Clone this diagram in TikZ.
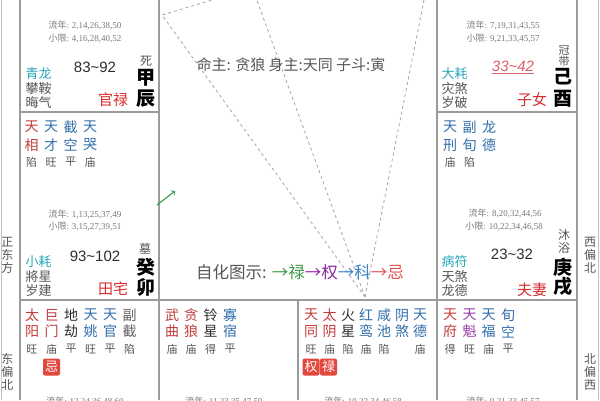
\documentclass[tikz,border=0pt]{standalone}
\usepackage{fontspec}
\setmainfont{Liberation Serif}
\setsansfont{Liberation Sans}
\newfontfamily\cjk{Noto Sans CJK SC}
\usetikzlibrary{positioning}

\definecolor{gridgray}{RGB}{155,155,155}
\definecolor{dashgray}{RGB}{165,165,165}
\definecolor{starred}{RGB}{196,60,60}
\definecolor{starblue}{RGB}{50,110,170}
\definecolor{stardark}{RGB}{45,45,45}
\definecolor{starmid}{RGB}{95,95,95}
\definecolor{starpurple}{RGB}{150,60,170}
\definecolor{godteal}{RGB}{40,165,185}
\definecolor{textgray}{RGB}{85,85,85}
\definecolor{yeargray}{RGB}{120,120,120}
\definecolor{palacered}{RGB}{215,45,45}
\definecolor{badgered}{RGB}{226,72,60}
\definecolor{lugreen}{RGB}{60,150,70}
\definecolor{quanpurple}{RGB}{140,40,160}
\definecolor{keblue}{RGB}{60,130,200}
\definecolor{jired}{RGB}{225,80,80}
\definecolor{limitred}{RGB}{215,95,105}

\begin{document}
\begin{tikzpicture}[x=1pt, y=-1pt,
    starname/.style={inner sep=0pt, font=\cjk\fontsize{14}{14}\selectfont},
    bright/.style={inner sep=0pt, text=textgray, font=\cjk\fontsize{11}{11}\selectfont},
    yearline/.style={inner sep=0pt, text=yeargray, font=\fontsize{9}{9}\selectfont},
    decade/.style={inner sep=0pt, text=stardark, font=\sffamily\fontsize{15}{15}\selectfont},
    stemnode/.style={inner sep=0pt, text=black, font=\cjk\bfseries\fontsize{19}{19}\selectfont},
    growth/.style={inner sep=0pt, text=textgray, font=\cjk\fontsize{12}{12}\selectfont},
    godnode/.style={inner sep=0pt, text=textgray, font=\cjk\fontsize{13}{13}\selectfont},
    palace/.style={inner sep=0pt, text=palacered, font=\cjk\fontsize{15}{15}\selectfont},
    badge/.style={fill=badgered, text=white, rounded corners=2pt, minimum size=17pt,
      inner sep=0pt, font=\cjk\fontsize{13}{13}\selectfont},
    compass/.style={inner sep=0pt, text=textgray, align=center,
      font=\cjk\fontsize{12}{13}\selectfont},
    centertext/.style={inner sep=0pt, text=textgray, font=\cjk\fontsize{15}{15}\selectfont},
    gridline/.style={draw=gridgray, line width=1.2pt},
    sanfang/.style={draw=dashgray, dashed, line width=0.8pt}, ]
    \useasboundingbox (0,0) rectangle (600,400);
    \clip (0,0) rectangle (600,400);
    % Lines
    \coordinate (ming) at (365,297); \coordinate (chen) at (162,15);
    \coordinate (chenup) at (229,-5); \coordinate (topmid) at (255,-5);
    \coordinate (topright) at (425,-5);
    \draw[sanfang] (ming) -- (chen) -- (chenup); \draw[sanfang] (ming)
    -- (topmid); \draw[sanfang] (ming) -- (topright);
    \draw[gridline] (20,0) -- (20,400); \draw[gridline] (159,0) --
    (159,400); \draw[gridline] (298,300) -- (298,400); \draw[gridline]
    (437,0) -- (437,400); \draw[gridline] (577,0) -- (577,400);
    \draw[gridline] (20,112) -- (159,112); \draw[gridline] (437,112) --
    (577,112); \draw[gridline] (20,300) -- (577,300);
    \draw[gridgray!60, line width=0.8pt] (1.5,0) -- (1.5,400);
    \draw[gridgray!60, line width=0.8pt] (598.5,0) -- (598.5,400);
    % Compass
    \node[compass] (east) at (7.5,255) {正\\东\\方}; \node[compass]
    (eastnorth) at (7.5,372) {东\\偏\\北}; \node[compass] (westnorth) at
    (590,255) {西\\偏\\北}; \node[compass] (northwest) at (590,372)
    {北\\偏\\西};
    % Centre
    \node[centertext] (mingzhu) at (291,65) {命主: 贪狼 身主:天同 子斗:寅};
    \node[centertext, font=\cjk\fontsize{16.5}{16.5}\selectfont] (zihua) at
    (300,272) {自化图示: {\color{lugreen}→禄}{\color{quanpurple}→权}%
      {\color{keblue}→科}{\color{jired}→忌}};
    \coordinate (huastart) at (157,205); \coordinate (huaend) at (175,191);
    \draw[->, lugreen, line width=1.1pt] (huastart) -- (huaend);
    % Chen
    \node[yearline] (chenliu) at (85,25) {{\cjk 流年}: 2,14,26,38,50};
    \node[yearline] (chenxiao) at (85,38) {{\cjk 小限}: 4,16,28,40,52};
    \node[decade] (chendec) at (95,67) {83\textasciitilde 92};
    \node[growth] (chengrow) at (146,61) {死}; \node[stemnode] (chenstem)
    at (146,78) {甲}; \node[stemnode] (chenbranch) at (146,99) {辰};
    \node[godnode, text=godteal] (chengod) at (38.5,74) {青龙};
    \node[godnode] (chenjiang) at (38.5,89) {攀鞍}; \node[godnode]
    (chensui) at (38.5,103) {晦气}; \node[palace] (chenpal) at (113,100)
    {官禄};
    % Mao
    \foreach \x/\a/\b/\d/\c [count=\i] in {31.5/天/相/陷/starred,
      51/天/才/旺/starblue, 70.5/截/空/平/starblue, 90/天/哭/庙/starblue} {
      \node[starname, text=\c] (mao\i a) at (\x,127) {\a};
      \node[starname, text=\c] (mao\i b) at (\x,145) {\b};
      \node[bright] (mao\i c) at (\x,162) {\d}; }
    \node[yearline] (maoliu) at (85,214) {{\cjk 流年}: 1,13,25,37,49};
    \node[yearline] (maoxiao) at (85,226) {{\cjk 小限}: 3,15,27,39,51};
    \node[decade] (maodec) at (95,256) {93\textasciitilde 102};
    \node[growth] (maogrow) at (145,249) {墓}; \node[stemnode] (maostem)
    at (146,267) {癸}; \node[stemnode] (maobranch) at (146,287) {卯};
    \node[godnode, text=godteal] (maogod) at (38.5,262) {小耗};
    \node[godnode] (maojiang) at (38.5,277) {將星}; \node[godnode]
    (maosui) at (38.5,291) {岁建}; \node[palace] (maopal) at (113,289)
    {田宅};
    % You
    \node[yearline] (youliu) at (503,25) {{\cjk 流年}: 7,19,31,43,55};
    \node[yearline] (youxiao) at (503,38) {{\cjk 小限}: 9,21,33,45,57};
    \node[decade, text=limitred, font=\sffamily\itshape\fontsize{15}{15}\selectfont]
    (youdec) at (513,67) {\underline{33\textasciitilde 42}};
    \node[growth, font=\cjk\fontsize{11}{11}\selectfont] (yougrowa) at
    (564,51) {冠}; \node[growth, font=\cjk\fontsize{11}{11}\selectfont]
    (yougrowb) at (564,61) {带}; \node[stemnode] (youstem) at (563,77)
    {己}; \node[stemnode] (youbranch) at (563,99) {酉};
    \node[godnode, text=godteal] (yougod) at (454.5,74) {大耗};
    \node[godnode] (youjiang) at (454.5,89) {灾煞}; \node[godnode]
    (yousui) at (454.5,103) {岁破}; \node[palace] (youpal) at (532,100)
    {子女};
    % Xu
    \foreach \x/\a/\b/\d/\c [count=\i] in {450/天/刑/庙/starblue,
      469.5/副/旬/陷/starblue, 489/龙/德//starblue} {
      \node[starname, text=\c] (xu\i a) at (\x,127) {\a};
      \node[starname, text=\c] (xu\i b) at (\x,145) {\b};
      \node[bright] (xu\i c) at (\x,162) {\d}; }
    \node[yearline] (xuliu) at (505,213) {{\cjk 流年}: 8,20,32,44,56};
    \node[yearline] (xuxiao) at (504,226) {{\cjk 小限}: 10,22,34,46,58};
    \node[decade] (xudec) at (512,254) {23\textasciitilde 32};
    \node[growth] (xugrowa) at (564,235) {沐}; \node[growth] (xugrowb) at
    (564,248) {浴}; \node[stemnode] (xustem) at (563,267) {庚};
    \node[stemnode] (xubranch) at (563,287) {戌};
    \node[godnode, text=godteal] (xugod) at (454.5,262) {病符};
    \node[godnode] (xujiang) at (454.5,277) {天煞}; \node[godnode]
    (xusui) at (454.5,291) {龙德}; \node[palace] (xupal) at (532,290)
    {夫妻};
    % Bottom row
    \foreach \x/\a/\b/\d/\c [count=\i] in {32/太/阳/旺/starred,
      51.5/巨/门/庙/starred, 71/地/劫/平/stardark, 90.5/天/姚/旺/starblue,
      110/天/官/平/starblue, 129.5/副/截/陷/starmid, 172/武/曲/庙/starred,
      191/贪/狼/庙/starred, 210.5/铃/星/得/stardark, 230/寡/宿/平/starblue,
      311/天/同/旺/starred, 329.5/太/阴/庙/starred, 348/火/星/陷/stardark,
      366/红/鸾/庙/starblue, 384/咸/池/陷/starblue, 402/阴/煞//starblue,
      420/天/德/庙/starblue, 450/天/府/得/starred, 469.5/天/魁/旺/starpurple,
      488.5/天/福/庙/starblue, 508/旬/空/平/starblue} {
      \node[starname, text=\c] (low\i a) at (\x,315) {\a};
      \node[starname, text=\c] (low\i b) at (\x,331.5) {\b};
      \node[bright] (low\i c) at (\x,349) {\d}; }
    \node[badge] (yinji) at (51.5,367) {忌};
    \node[badge] (ziquan) at (311,367) {权}; \node[badge] (zilu) at
    (328.5,367) {禄};
    \node[yearline] (yinliu) at (85,401) {{\cjk 流年}: 12,24,36,48,60};
    \node[yearline] (chouliu) at (224,401) {{\cjk 流年}: 11,23,35,47,59};
    \node[yearline] (ziliu) at (363,401) {{\cjk 流年}: 10,22,34,46,58};
    \node[yearline] (hailiu) at (503,401) {{\cjk 流年}: 9,21,33,45,57};
  \end{tikzpicture}
\end{document}
